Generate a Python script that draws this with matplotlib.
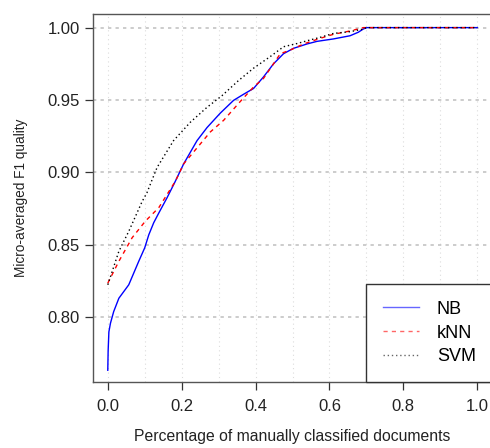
import matplotlib
matplotlib.use('Agg')
import matplotlib.pyplot as plt

plt.rcParams['font.family'] = ['Liberation Sans', 'DejaVu Sans']

# share of manually classified documents vs micro-averaged F1
nb_x = [0.0, 0.001, 0.003, 0.0073, 0.016, 0.030, 0.0568, 0.0838, 0.100, 0.111,
        0.1243, 0.138, 0.1605, 0.181, 0.2055, 0.2416, 0.2686, 0.3046, 0.3405,
        0.3676, 0.3946, 0.4216, 0.4486, 0.4757, 0.5027, 0.539, 0.566, 0.611,
        0.656, 0.678, 0.692, 0.701, 1.0]
nb_y = [0.7635, 0.777, 0.790, 0.796, 0.804, 0.8132, 0.8225, 0.8387, 0.848,
        0.857, 0.8653, 0.872, 0.8826, 0.893, 0.906, 0.922, 0.931, 0.941,
        0.9498, 0.954, 0.958, 0.966, 0.975, 0.982, 0.9857, 0.9887, 0.9905,
        0.9922, 0.9944, 0.9968, 0.9991, 1.0, 1.0]

knn_x = [0.0, 0.030, 0.066, 0.102, 0.138, 0.183, 0.2055, 0.2416, 0.2776,
         0.3135, 0.3586, 0.3946, 0.4216, 0.4486, 0.467, 0.4938, 0.53, 0.5749,
         0.611, 0.656, 0.692, 1.0]
knn_y = [0.8236, 0.8387, 0.855, 0.8665, 0.8757, 0.894, 0.906, 0.917, 0.928,
         0.936, 0.949, 0.959, 0.965, 0.975, 0.982, 0.9845, 0.9887, 0.9926,
         0.9954, 0.9977, 1.0, 1.0]

svm_x = [0.0, 0.030, 0.057, 0.093, 0.106, 0.12, 0.1335, 0.178, 0.2235, 0.2686,
         0.309, 0.354, 0.3946, 0.4397, 0.4757, 0.512, 0.548, 0.5749, 0.611,
         0.656, 0.692, 0.70, 1.0]
svm_y = [0.8225, 0.8456, 0.8595, 0.880, 0.886, 0.895, 0.9035, 0.922, 0.9347,
         0.945, 0.953, 0.9635, 0.972, 0.980, 0.9868, 0.989, 0.9915, 0.9933,
         0.996, 0.9972, 0.999, 1.0, 1.0]

fig = plt.figure(figsize=(4.9, 4.48), dpi=100)
ax = fig.add_axes([93 / 490, 66.3 / 448, 399 / 490, 367.7 / 448])

for v in [0.0, 0.1, 0.2, 0.3, 0.4, 0.5, 0.6, 0.7, 0.8, 0.9, 1.0]:
    ax.axvline(v, color='#dcdcdc', lw=0.8, ls=(0, (1, 3)), zorder=0)
for h in [0.80, 0.85, 0.90, 0.95, 1.00]:
    ax.axhline(h, color='#c4c4c4', lw=1.2, ls=(0, (2, 2.5)), zorder=0)

ax.plot(nb_x, nb_y, color='blue', lw=1.0, label='NB')
ax.plot(knn_x, knn_y, color='red', lw=1.0, ls=(0, (3, 3)), label='kNN')
ax.plot(svm_x, svm_y, color='black', lw=1.0, ls=(0, (1, 2)), label='SVM')

ax.set_xlim(-0.04, 1.04)
ax.set_ylim(0.7556, 1.0094)
ax.set_xticks([0.0, 0.2, 0.4, 0.6, 0.8, 1.0])
ax.set_xticklabels(['0.0', '0.2', '0.4', '0.6', '0.8', '1.0'])
ax.set_yticks([0.80, 0.85, 0.90, 0.95, 1.00])
ax.set_yticklabels(['0.80', '0.85', '0.90', '0.95', '1.00'])

for s in ['left', 'bottom', 'top']:
    ax.spines[s].set_color('#555555')
    ax.spines[s].set_linewidth(1.0)
ax.spines['right'].set_visible(False)
ax.tick_params(axis='both', direction='out', length=5.5, width=0.9,
               color='#333333', labelsize=12, labelcolor='#222222')
ax.tick_params(axis='x', pad=7)
ax.tick_params(axis='y', pad=4)

ax.set_xlabel('Percentage of manually classified documents', fontsize=11.3,
              color='#222222', labelpad=11)
ax.set_ylabel('Micro-averaged F1 quality', fontsize=9.8, color='#222222',
              labelpad=14)

leg = ax.legend(loc='lower right', fontsize=13, frameon=True, fancybox=False,
                borderaxespad=0, handlelength=2.0, handletextpad=1.0,
                borderpad=0.9, labelspacing=0.38)
leg.get_frame().set_edgecolor('#333333')
leg.get_frame().set_linewidth(1.0)
leg.get_frame().set_alpha(1)
for line in leg.get_lines():
    line.set_alpha(0.6)

fig.savefig('out.png', dpi=100)
